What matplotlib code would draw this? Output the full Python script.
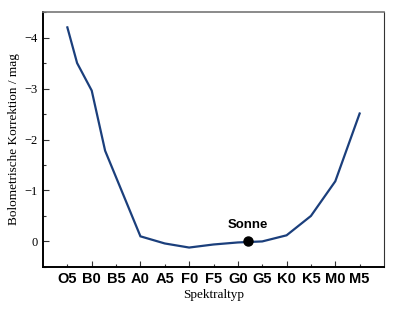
import numpy as np
import matplotlib
matplotlib.use("Agg")
import matplotlib.pyplot as plt
from matplotlib.ticker import MultipleLocator, FixedLocator

# spectral type labels (position index = tick position)
spectral_types = ['O5', 'B0', 'B5', 'A0', 'A5', 'F0', 'F5', 'G0', 'G5', 'K0', 'K5', 'M0', 'M5']

# curve (x as spectral-type position)
curve_x = [0, 0.4, 1.0, 1.55, 3, 4, 5, 6, 7, 8, 9, 10, 11, 12]
curve_bc = [-4.2, -3.5, -2.96, -1.78, -0.1, 0.04, 0.12, 0.06, 0.02, 0.0, -0.12, -0.5, -1.18, -2.51]

sun_x = 7.4
sun_bc = 0.0

fig = plt.figure(figsize=(4.0, 3.1), dpi=100)
ax = fig.add_axes([0.1075, 0.139, 0.8525, 0.822])

ax.plot(curve_x, curve_bc, color='#1b3f7c', lw=1.6, solid_joinstyle='miter')
ax.plot(sun_x, sun_bc, 'o', color='black', ms=6.5, zorder=5)
ax.text(sun_x, sun_bc - 0.2, 'Sonne', ha='center', va='bottom',
        family='Liberation Sans', fontweight='bold', fontsize=9.5)

ax.set_xlim(-1, 13)
ax.set_ylim(0.5, -4.5)

ax.xaxis.set_major_locator(FixedLocator(range(len(spectral_types))))
ax.set_xticklabels(spectral_types, family='Liberation Sans', fontweight='bold', fontsize=10.5)
ax.yaxis.set_major_locator(MultipleLocator(1))
ax.yaxis.set_minor_locator(MultipleLocator(0.5))
ax.set_yticks([0, -1, -2, -3, -4])
ax.set_yticklabels(['0', '\u22121', '\u22122', '\u22123', '\u22124'],
                   family='Liberation Serif', fontsize=9)

ax.tick_params(axis='both', which='major', direction='in', length=4.5, width=0.8, color='#333333')
ax.tick_params(axis='y', which='minor', direction='in', length=2.5, width=0.8, color='#333333')
ax.tick_params(axis='x', pad=4)
ax.tick_params(axis='y', pad=4)

# shorter ticks on O5, B5, A5 ... like the original
for t in ax.xaxis.get_major_ticks()[::2]:
    t.tick1line.set_markersize(2.5)

ax.set_xlabel('Spektraltyp', family='Liberation Serif', fontsize=9.5, labelpad=2)
ax.set_ylabel('Bolometrische Korrektion / mag', family='Liberation Serif', fontsize=9.5, labelpad=3)

ax.spines['left'].set_linewidth(1.4)
ax.spines['bottom'].set_linewidth(1.4)
ax.spines['top'].set_color('#777777')
ax.spines['top'].set_linewidth(1.2)
ax.spines['right'].set_color('#333333')
ax.spines['right'].set_linewidth(0.8)

fig.savefig('out.png', dpi=100)
